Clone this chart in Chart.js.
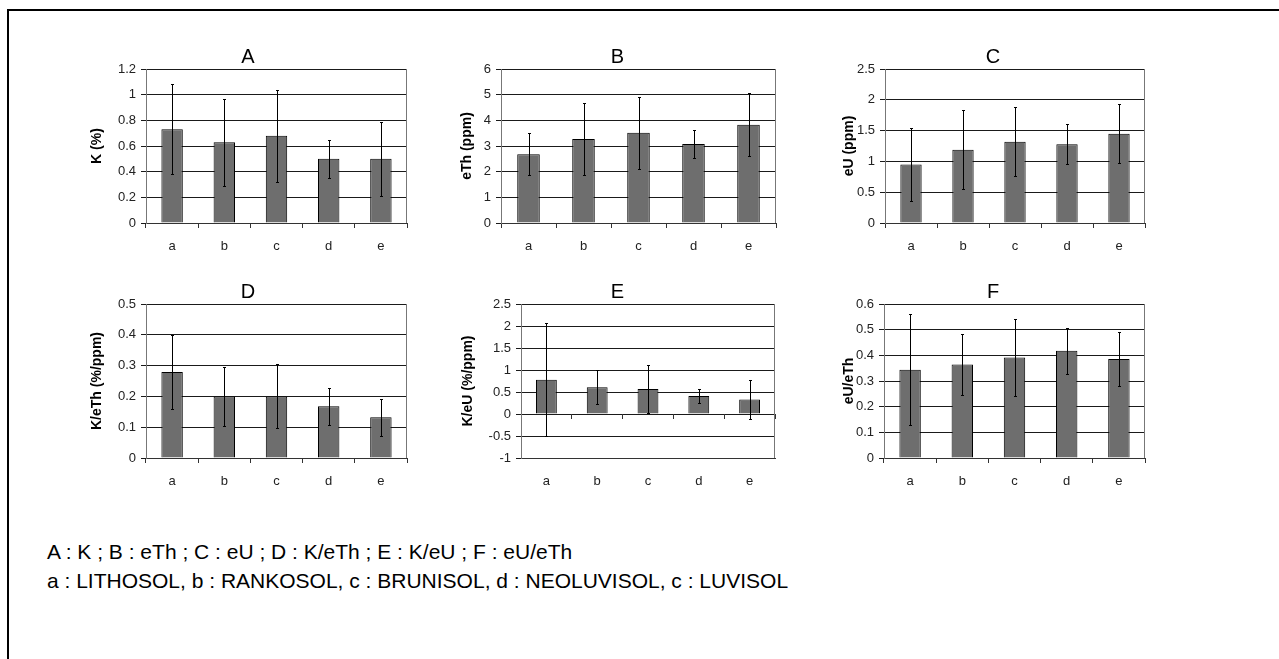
<!DOCTYPE html>
<html>
<head>
<meta charset="utf-8">
<script src="https://cdn.jsdelivr.net/npm/chart.js@4/dist/chart.umd.min.js"></script>
<style>
  html, body { margin: 0; padding: 0; background: #fff; }
  body { width: 1279px; height: 659px; position: relative; overflow: hidden; font-family: "Liberation Sans", Arial, sans-serif; }
  .frame { position: absolute; left: 7px; top: 9px; right: -10px; bottom: -10px; border-top: 2px solid #000; border-left: 2px solid #000; }
  canvas { position: absolute; }
  .note { position: absolute; left: 47px; font-size: 21px; color: #000; white-space: nowrap; line-height: 1; }
</style>
</head>
<body>
<div class="frame"></div>
<canvas id="cA"></canvas>
<canvas id="cB"></canvas>
<canvas id="cC"></canvas>
<canvas id="cD"></canvas>
<canvas id="cE"></canvas>
<canvas id="cF"></canvas>
<div class="note" style="top:541px">A : K ; B : eTh ; C : eU ; D : K/eTh ; E : K/eU ; F : eU/eTh</div>
<div class="note" style="top:570px">a : LITHOSOL, b : RANKOSOL, c : BRUNISOL, d : NEOLUVISOL, c : LUVISOL</div>
<script>
// soil classes
const categories = ['a', 'b', 'c', 'd', 'e'];

// A : K (%)
const kMean = [0.73, 0.63, 0.68, 0.50, 0.50];
const kErr = [0.35, 0.34, 0.36, 0.15, 0.29];
const kTicks = [0, 0.2, 0.4, 0.6, 0.8, 1, 1.2];

// B : eTh (ppm)
const eThMean = [2.68, 3.27, 3.52, 3.08, 3.83];
const eThErr = [0.82, 1.40, 1.40, 0.56, 1.23];
const eThTicks = [0, 1, 2, 3, 4, 5, 6];

// C : eU (ppm)
const eUMean = [0.95, 1.19, 1.32, 1.28, 1.45];
const eUErr = [0.60, 0.64, 0.56, 0.32, 0.48];
const eUTicks = [0, 0.5, 1, 1.5, 2, 2.5];

// D : K/eTh
const kEThMean = [0.279, 0.200, 0.200, 0.168, 0.132];
const kEThErr = [0.120, 0.097, 0.104, 0.060, 0.059];
const kEThTicks = [0, 0.1, 0.2, 0.3, 0.4, 0.5];

// E : K/eU
const kEUMean = [0.78, 0.61, 0.57, 0.41, 0.33];
const kEUErr = [1.29, 0.38, 0.55, 0.155, 0.445];
const kEUTicks = [-1, -0.5, 0, 0.5, 1, 1.5, 2, 2.5];

// F : eU/eTh
const eUEThMean = [0.344, 0.364, 0.392, 0.418, 0.386];
const eUEThErr = [0.216, 0.120, 0.150, 0.090, 0.104];
const eUEThTicks = [0, 0.1, 0.2, 0.3, 0.4, 0.5, 0.6];

const FONT = '"Liberation Sans", Arial, sans-serif';

// symmetric error bars drawn through the y scale
const errorBars = {
  id: 'errorBars',
  afterDatasetsDraw(chart) {
    const ctx = chart.ctx;
    const y = chart.scales.y;
    const ds = chart.data.datasets[0];
    const meta = chart.getDatasetMeta(0);
    ctx.save();
    ctx.strokeStyle = '#000';
    ctx.lineWidth = 1;
    meta.data.forEach((bar, i) => {
      const x = Math.round(bar.x) + 0.5;
      const hi = Math.round(y.getPixelForValue(ds.data[i] + ds.errors[i])) + 0.5;
      const lo = Math.round(y.getPixelForValue(ds.data[i] - ds.errors[i])) + 0.5;
      ctx.beginPath();
      ctx.moveTo(x, hi); ctx.lineTo(x, lo);
      ctx.moveTo(x - 1.5, hi); ctx.lineTo(x + 1.5, hi);
      ctx.moveTo(x - 1.5, lo); ctx.lineTo(x + 1.5, lo);
      ctx.stroke();
    });
    ctx.restore();
  }
};

// grey right edge of the plot box
const rightEdge = {
  id: 'rightEdge',
  beforeDatasetsDraw(chart) {
    const a = chart.chartArea, ctx = chart.ctx;
    ctx.save();
    ctx.strokeStyle = '#777';
    ctx.lineWidth = 1;
    ctx.beginPath();
    ctx.moveTo(Math.round(a.right) - 0.5, a.top);
    ctx.lineTo(Math.round(a.right) - 0.5, a.bottom);
    ctx.stroke();
    ctx.restore();
  }
};

function makePanel(id, title, yTitle, mean, err, ticks, box, zeroAxis) {
  const [titleX, left, right, top, bottom] = box;
  const cx = titleX - 8, cy = top - 26;
  const cw = right - cx + 3, ch = bottom + 40 - cy;
  const cv = document.getElementById(id);
  cv.width = cw; cv.height = ch;
  cv.style.left = cx + 'px'; cv.style.top = cy + 'px';

  const scales = {
    x: {
      grid: { offset: true, drawOnChartArea: false, drawTicks: !zeroAxis, tickLength: zeroAxis ? 0 : 5, color: '#333' },
      border: { display: true, color: '#333', width: 1 },
      ticks: { color: '#222', font: { family: FONT, size: 13 }, padding: zeroAxis ? 16 : 11 },
      afterFit(s) { s.height = 40; }
    },
    y: {
      min: ticks[0],
      max: ticks[ticks.length - 1],
      afterBuildTicks(s) { s.ticks = ticks.map(v => ({ value: v })); },
      grid: { color: '#1a1a1a', tickLength: 5 },
      border: { display: true, color: '#777', width: 1 },
      ticks: { color: '#222', font: { family: FONT, size: 13 }, padding: 5, callback: v => String(+v.toFixed(2)) },
      title: { display: true, text: yTitle, color: '#000', font: { family: FONT, size: 14, weight: 'bold' }, padding: 0 },
      afterFit(s) { s.width = left - cx; }
    }
  };
  if (zeroAxis) {
    scales.x2 = {
      type: 'category',
      position: { y: 0 },
      offset: true,
      grid: { offset: true, drawOnChartArea: false, drawTicks: true, tickLength: 5, color: '#333' },
      border: { display: false },
      ticks: { display: false }
    };
  }

  return new Chart(cv, {
    type: 'bar',
    data: {
      labels: categories,
      datasets: [{
        data: mean,
        errors: err,
        backgroundColor: '#6e6e6e',
        borderColor: '#000',
        borderWidth: 1,
        barPercentage: 0.41,
        categoryPercentage: 1
      }]
    },
    options: {
      responsive: false,
      animation: false,
      layout: { padding: { top: 2, right: 3, left: 0, bottom: 0 } },
      plugins: {
        legend: { display: false },
        tooltip: { enabled: false },
        title: { display: true, text: title, color: '#000', font: { family: FONT, size: 20, weight: 'normal' }, padding: 0 }
      },
      scales: scales
    },
    plugins: [rightEdge, errorBars]
  });
}

makePanel('cA', 'A', 'K (%)', kMean, kErr, kTicks, [97, 146, 407, 69, 223]);
makePanel('cB', 'B', 'eTh (ppm)', eThMean, eThErr, eThTicks, [467, 501, 776, 69, 223]);
makePanel('cC', 'C', 'eU (ppm)', eUMean, eUErr, eUTicks, [849, 885, 1145, 69, 223]);
makePanel('cD', 'D', 'K/eTh (%/ppm)', kEThMean, kEThErr, kEThTicks, [97, 146, 407, 304, 458]);
makePanel('cE', 'E', 'K/eU (%/ppm)', kEUMean, kEUErr, kEUTicks, [468, 521, 775, 304, 458], true);
makePanel('cF', 'F', 'eU/eTh', eUEThMean, eUEThErr, eUEThTicks, [849, 884, 1145, 304, 458]);
</script>
</body>
</html>
